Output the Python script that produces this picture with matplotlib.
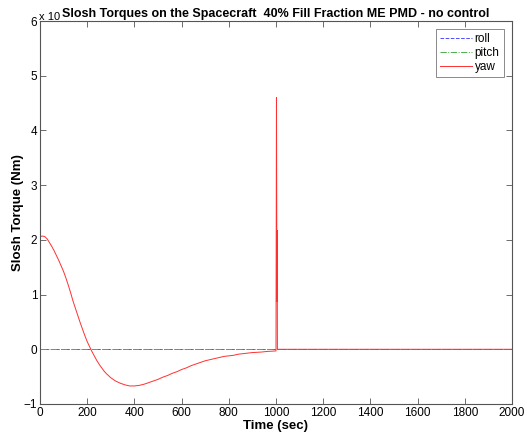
import matplotlib.pyplot as plt

plt.rcParams['font.family'] = ['Liberation Sans', 'DejaVu Sans']

# yaw slosh torque
yaw_t = [0, 10, 20, 30, 40, 50, 60, 70, 80, 90, 100, 110, 120, 130, 140, 150,
         160, 170, 180, 190, 200, 210, 220, 230, 240, 250, 260, 270, 280, 290,
         300, 320, 340, 360, 380, 400, 420, 440, 460, 480, 500, 520, 540, 560,
         580, 600, 620, 640, 660, 680, 700, 720, 740, 760, 780, 800, 820, 840,
         860, 880, 900, 920, 940, 960, 980, 1000,
         1002, 1004, 1005, 1006, 2000]
yaw_v = [2.06, 2.07, 2.06, 2.02, 1.95, 1.88, 1.80, 1.71, 1.62, 1.52, 1.42, 1.30,
         1.17, 1.03, 0.88, 0.75, 0.62, 0.49, 0.37, 0.25, 0.14, 0.05, -0.04,
         -0.12, -0.2, -0.27, -0.33, -0.39, -0.44, -0.48, -0.52, -0.58, -0.62,
         -0.65, -0.67, -0.67, -0.66, -0.64, -0.61, -0.58, -0.55, -0.51, -0.48,
         -0.44, -0.41, -0.37, -0.34, -0.30, -0.27, -0.24, -0.21, -0.19, -0.17,
         -0.15, -0.13, -0.12, -0.11, -0.09, -0.08, -0.07, -0.06, -0.055, -0.05,
         -0.04, -0.035, -0.03,
         4.6, 0.88, 2.17, 0.0, 0.0]
roll_t = [0, 2000]
roll_v = [0, 0]
pitch_t = [0, 2000]
pitch_v = [0, 0]

fig = plt.figure(figsize=(5.27, 4.36), dpi=100)
ax = fig.add_axes([0.0759, 0.0734, 0.8956, 0.8784])

ax.plot(roll_t, roll_v, linestyle='--', color='#4d4dff', lw=0.7, label='roll')
ax.plot(pitch_t, pitch_v, linestyle='-.', color='#4caf4c', lw=0.7, label='pitch')
ax.plot(yaw_t, yaw_v, linestyle='-', color='#ff3030', lw=0.7, label='yaw')

ax.set_xlim(0, 2000)
ax.set_ylim(-1, 6)
ax.set_xticks(range(0, 2001, 200))
ax.set_yticks(range(-1, 7))
ax.tick_params(direction='in', top=True, right=True, labelsize=8.5, length=4,
               color='#555555', width=0.6, pad=2)
for s in ax.spines.values():
    s.set_color('#555555')
    s.set_linewidth(0.8)

ax.set_xlabel('Time (sec)', fontsize=9.5, fontweight='bold', labelpad=1)
ax.set_ylabel('Slosh Torque (Nm)', fontsize=9.5, fontweight='bold', labelpad=0)
ax.set_title('Slosh Torques on the Spacecraft  40% Fill Fraction ME PMD - no control',
             fontsize=9, fontweight='bold', pad=3)
fig.text(39 / 527, 1 - 17 / 436, 'x 10', fontsize=8, ha='left', va='center')

leg = ax.legend(loc='upper right', fontsize=8.5, frameon=True, fancybox=False,
                handlelength=2.7, handletextpad=0.2, borderpad=0.35,
                labelspacing=0.15, borderaxespad=0.7)
leg.get_frame().set_edgecolor('#555555')
leg.get_frame().set_linewidth(0.6)

fig.savefig('out.png', dpi=100)
